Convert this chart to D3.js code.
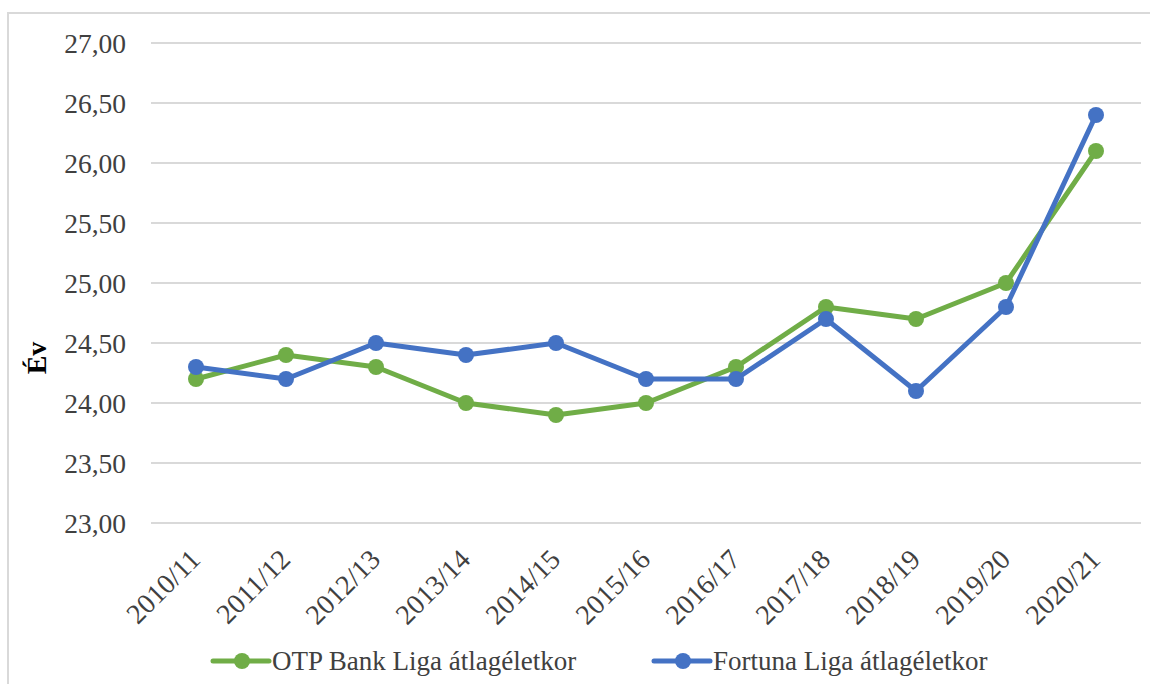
<!DOCTYPE html>
<html>
<head>
<meta charset="utf-8">
<script src="https://cdn.jsdelivr.net/npm/d3@7"></script>
<style>
  body { margin: 0; background: #fff; }
  svg { display: block; }
</style>
</head>
<body>
<div id="chart"></div>
<script>
var seasons = ["2010/11", "2011/12", "2012/13", "2013/14", "2014/15", "2015/16",
               "2016/17", "2017/18", "2018/19", "2019/20", "2020/21"];
var otpValues = [24.2, 24.4, 24.3, 24.0, 23.9, 24.0, 24.3, 24.8, 24.7, 25.0, 26.1];
var fortunaValues = [24.3, 24.2, 24.5, 24.4, 24.5, 24.2, 24.2, 24.7, 24.1, 24.8, 26.4];
var yTicks = [23, 23.5, 24, 24.5, 25, 25.5, 26, 26.5, 27];
var seriesNames = ["OTP Bank Liga átlagéletkor", "Fortuna Liga átlagéletkor"];
var seriesColors = ["#70AD47", "#4472C4"];

var width = 1150, height = 684;
var fontFamily = "'Liberation Serif', 'Times New Roman', serif";

var svg = d3.select("#chart").append("svg")
    .attr("width", width)
    .attr("height", height);

// chart border
svg.append("rect")
    .attr("x", 8).attr("y", 13)
    .attr("width", width + 10).attr("height", height + 10)
    .attr("fill", "none")
    .attr("stroke", "#D9D9D9")
    .attr("stroke-width", 2);

var x = d3.scaleBand().domain(seasons).range([151, 1141]);
var y = d3.scaleLinear().domain([23, 27]).range([523, 43]);

// gridlines
svg.append("g").selectAll("line")
    .data(yTicks)
    .enter()
    .append("line")
    .attr("x1", 151).attr("x2", 1141)
    .attr("y1", function (d) { return y(d); })
    .attr("y2", function (d) { return y(d); })
    .attr("stroke", "#D9D9D9")
    .attr("stroke-width", 2);

// y axis labels
var yAxis = d3.axisLeft(y)
    .tickValues(yTicks)
    .tickSize(0)
    .tickPadding(0)
    .tickFormat(function (d) { return d.toFixed(2).replace(".", ","); });

var gy = svg.append("g").attr("transform", "translate(126,0)").call(yAxis);
gy.select(".domain").remove();
gy.selectAll("text")
    .attr("font-family", fontFamily)
    .attr("font-size", 27.5)
    .attr("fill", "#404040")
    .attr("dy", "0.34em");

// x axis labels
var xAxis = d3.axisBottom(x).tickSize(0).tickPadding(0);
var gx = svg.append("g").attr("transform", "translate(0,523)").call(xAxis);
gx.select(".domain").remove();
gx.selectAll("text")
    .attr("font-family", fontFamily)
    .attr("font-size", 28)
    .attr("fill", "#404040")
    .attr("text-anchor", "end")
    .attr("dy", null)
    .attr("y", 0)
    .attr("transform", "translate(6,38) rotate(-45)");

// y axis title
svg.append("text")
    .attr("transform", "translate(46,358) rotate(-90)")
    .attr("text-anchor", "middle")
    .attr("font-family", fontFamily)
    .attr("font-weight", "bold")
    .attr("font-size", 28)
    .attr("fill", "#000")
    .text("Év");

var line = d3.line()
    .x(function (d, i) { return x(seasons[i]) + x.bandwidth() / 2; })
    .y(function (d) { return y(d); });

[otpValues, fortunaValues].forEach(function (vals, s) {
    var g = svg.append("g");
    g.append("path")
        .attr("d", line(vals))
        .attr("fill", "none")
        .attr("stroke", seriesColors[s])
        .attr("stroke-width", 5)
        .attr("stroke-linejoin", "round");
    g.selectAll("circle")
        .data(vals)
        .enter()
        .append("circle")
        .attr("cx", function (d, i) { return x(seasons[i]) + x.bandwidth() / 2; })
        .attr("cy", function (d) { return y(d); })
        .attr("r", 8)
        .attr("fill", seriesColors[s]);
});

// legend
var legendX = [213, 654];
seriesNames.forEach(function (name, s) {
    var g = svg.append("g").attr("transform", "translate(" + legendX[s] + ",661)");
    g.append("line")
        .attr("x1", 0).attr("x2", 56)
        .attr("stroke", seriesColors[s])
        .attr("stroke-width", 5)
        .attr("stroke-linecap", "round");
    g.append("circle").attr("cx", 29).attr("r", 8).attr("fill", seriesColors[s]);
    g.append("text")
        .attr("x", 59)
        .attr("dy", "0.34em")
        .attr("font-family", fontFamily)
        .attr("font-size", 27)
        .attr("fill", "#404040")
        .text(name);
});
</script>
</body>
</html>
